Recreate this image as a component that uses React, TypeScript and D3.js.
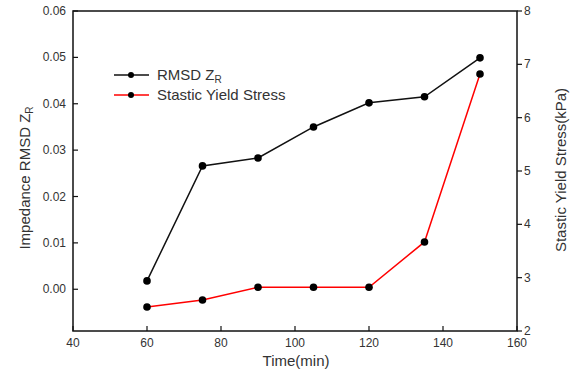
import React from "react";
import * as d3 from "d3";

const times = [60, 75, 90, 105, 120, 135, 150];
const rmsd = [0.0018, 0.0266, 0.0283, 0.035, 0.0402, 0.0415, 0.0499];
const stress = [2.45, 2.58, 2.82, 2.82, 2.82, 3.67, 6.82];
const xTicks = [40, 60, 80, 100, 120, 140, 160];
const yLeftTicks = [0.0, 0.01, 0.02, 0.03, 0.04, 0.05, 0.06];
const yRightTicks = [2, 3, 4, 5, 6, 7, 8];

export default function App() {
  const W = 572, H = 383;
  const L = 73, R = 517, T = 11, B = 331;
  const x = d3.scaleLinear().domain([40, 160]).range([L, R]);
  const yL = d3.scaleLinear().domain([-0.009, 0.06]).range([B, T]);
  const yR = d3.scaleLinear().domain([2, 8]).range([B, T]);
  const font = "Liberation Sans, Arial, sans-serif";
  const lineL = d3.line<number>().x((_, i) => x(times[i])).y((d) => yL(d));
  const lineR = d3.line<number>().x((_, i) => x(times[i])).y((d) => yR(d));
  const tc = "#333";
  return (
    <svg width={W} height={H} style={{ position: "absolute", left: 0, top: 0, background: "#fff" }} fontFamily={font}>
      <rect x={L} y={T} width={R - L} height={B - T} fill="none" stroke="#111" strokeWidth={1.5} />
      {xTicks.map((t) => (
        <g key={t}>
          <line x1={x(t)} x2={x(t)} y1={B} y2={B - 5} stroke="#111" strokeWidth={1.2} />
          <text x={x(t)} y={B + 16} textAnchor="middle" fontSize={12} fill={tc}>{t}</text>
        </g>
      ))}
      {yLeftTicks.map((t) => (
        <g key={t}>
          <line x1={L} x2={L + 5} y1={yL(t)} y2={yL(t)} stroke="#111" strokeWidth={1.2} />
          <text x={L - 7} y={yL(t) + 4} textAnchor="end" fontSize={12} fill={tc}>{t.toFixed(2)}</text>
        </g>
      ))}
      {yRightTicks.map((t) => (
        <g key={t}>
          <line x1={R} x2={R + 5} y1={yR(t)} y2={yR(t)} stroke="#111" strokeWidth={1.2} />
          <text x={R + 7} y={yR(t) + 4} textAnchor="start" fontSize={12} fill={tc}>{t}</text>
        </g>
      ))}
      <text x={296} y={366} textAnchor="middle" fontSize={15} fill={tc}>Time(min)</text>
      <text transform={`translate(30,178) rotate(-90)`} textAnchor="middle" fontSize={15} fill={tc}>
        Impedance RMSD Z<tspan fontSize={10} dy={3}>R</tspan>
      </text>
      <text transform={`translate(566,170) rotate(-90)`} textAnchor="middle" fontSize={15} fill={tc}>
        Stastic Yield Stress(kPa)
      </text>
      <path d={lineL(rmsd) || ""} fill="none" stroke="#111" strokeWidth={1.5} />
      <path d={lineR(stress) || ""} fill="none" stroke="#f00" strokeWidth={1.5} />
      {rmsd.map((v, i) => (
        <circle key={"a" + i} cx={x(times[i])} cy={yL(v)} r={3.8} fill="#000" />
      ))}
      {stress.map((v, i) => (
        <circle key={"b" + i} cx={x(times[i])} cy={yR(v)} r={3.8} fill="#000" />
      ))}
      <g>
        <line x1={114} x2={149} y1={75} y2={75} stroke="#111" strokeWidth={1.5} />
        <circle cx={131} cy={75} r={3} fill="#000" />
        <text x={157} y={80} fontSize={15} fill={tc}>RMSD Z<tspan fontSize={10} dy={3}>R</tspan></text>
        <line x1={114} x2={149} y1={95} y2={95} stroke="#f00" strokeWidth={1.5} />
        <circle cx={131} cy={95} r={3} fill="#000" />
        <text x={157} y={100} fontSize={15} fill={tc}>Stastic Yield Stress</text>
      </g>
    </svg>
  );
}
